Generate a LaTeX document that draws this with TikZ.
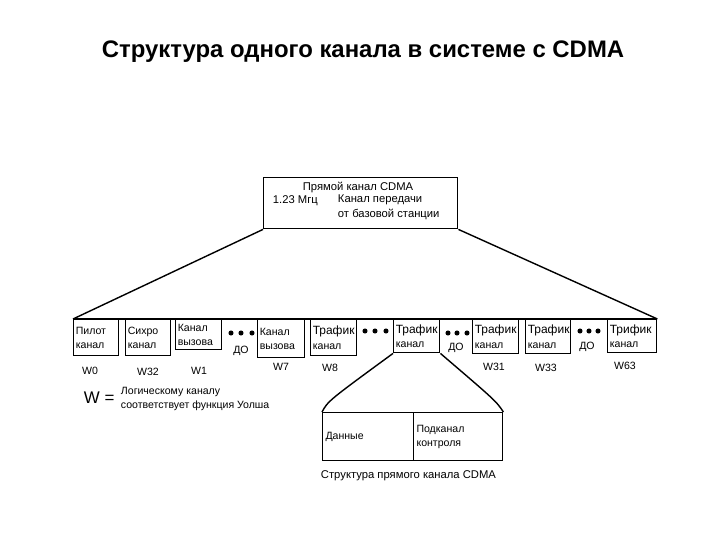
\documentclass[tikz,border=0pt]{standalone}
\usepackage{fontspec}
\setmainfont{Liberation Sans}
\usetikzlibrary{calc,positioning}

\newcommand{\chanhead}[1]{{\fontsize{8.5}{10}\selectfont #1}}

\begin{document}
\begin{tikzpicture}[x=0.025cm, y=-0.025cm,
  chan/.style={draw, line width=1pt, inner sep=1.5pt, align=left, anchor=north west, font=\fontsize{7.5}{10}\selectfont},
  lbl/.style={font=\fontsize{7.5}{10}\selectfont}]
\useasboundingbox (0,0) rectangle (720,540);

\node[font=\bfseries\fontsize{17}{18}\selectfont] (title) at (363,52) {Структура одного канала в системе с CDMA};

% Top box: forward channel
\node[draw, line width=1pt, anchor=north west, minimum width=194*0.025cm, minimum height=51*0.025cm] (top) at (263,177) {};
\node[font=\fontsize{8}{10}\selectfont] (tt) at (358,187) {Прямой канал CDMA};
\node[font=\fontsize{8}{10}\selectfont, anchor=west] (fr) at (268,201) {1.23 Мгц};
\node[font=\fontsize{8}{10.5}\selectfont, anchor=west, align=left] (ds) at (333,207) {Канал передачи\\от базовой станции};

% Row of logical channels
\foreach \i/\x/\w/\h/\t in {1/73/45/36/{Пилот\\канал}, 2/125/45/36/{Сихро\\канал}, 3/175/46/30/{Канал\\вызова},
    4/257/47/38/{Канал\\вызова}, 5/310/46/36/{\chanhead{Трафик}\\канал}, 6/393/46/33/{\chanhead{Трафик}\\канал},
    7/472/46/34/{\chanhead{Трафик}\\канал}, 8/525/45/34/{\chanhead{Трафик}\\канал}, 9/607/49/33/{\chanhead{Трифик}\\канал}} {
    \node[chan, minimum width=\w*0.025cm, minimum height=\h*0.025cm, text width=\w*0.025cm-3pt] (b\i) at (\x,319) {\t};
}

\draw[line width=1pt] (b1.north west) -- (b9.north east);
\draw[line width=1pt] (top.south west) -- (b1.north west);
\draw[line width=1pt] (top.south east) -- (b9.north east);

% Dots between channels
\foreach \i/\x/\y in {1/231/333, 2/241/333, 3/252/333, 4/365/331, 5/375/331, 6/386/331,
    7/448/333, 8/457/333, 9/467/333, 10/580/331, 11/589/331, 12/598/331} {
    \node[fill, circle, inner sep=0pt, minimum size=3.6pt] (d\i) at (\x,\y) {};
}

\node[lbl] (do1) at (241,351) {ДО};
\node[lbl] (do2) at (456,348) {ДО};
\node[lbl] (do3) at (587,347) {ДО};

% Walsh function labels
\foreach \i/\x/\y/\t in {1/90/371/W0, 2/148/372/W32, 3/199/371/W1, 4/281/367/W7, 5/330/368/W8,
    6/494/367/W31, 7/546/368/W33, 8/625/366/W63} {
    \node[lbl] (w\i) at (\x,\y) {\t};
}

\node[font=\fontsize{12}{13}\selectfont, anchor=west] (weq) at (79,398) {W =};
\node[lbl, anchor=west, align=left] (wtxt) at (116,399) {Логическому каналу\\соответствует функция Уолша};

% Structure of the forward traffic channel
\node[draw, line width=1pt, anchor=north west, minimum width=91*0.025cm, minimum height=48*0.025cm,
    text width=91*0.025cm-4pt, align=left, inner sep=2pt, lbl] (dat) at (322,412) {Данные};
\node[draw, line width=1pt, anchor=north west, minimum width=89*0.025cm, minimum height=48*0.025cm,
    text width=89*0.025cm-4pt, align=left, inner sep=2pt, lbl] (ctl) at (413,412) {Подканал\\контроля\\[6pt]};

\draw[line width=1pt] (b6.south west) .. controls (328,401) .. (dat.north west);
\draw[line width=1pt] (b6.south east) .. controls (496,401) .. (ctl.north east);

\node[font=\fontsize{8}{10}\selectfont, anchor=west] (cap) at (316,476) {Структура прямого канала CDMA};

\end{tikzpicture}
\end{document}
